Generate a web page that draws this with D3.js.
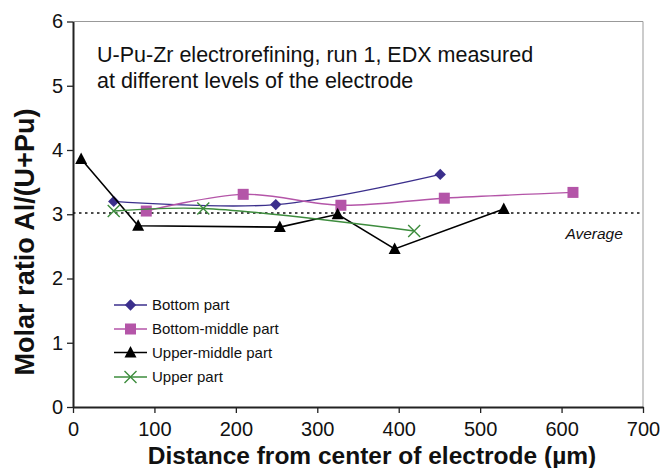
<!DOCTYPE html>
<html><head><meta charset="utf-8">
<script src="https://cdn.jsdelivr.net/npm/d3@7"></script>
<style>body{margin:0;background:#fff}svg{display:block;font-family:"Liberation Sans",Arial,sans-serif}</style>
</head><body><svg id="c" width="661" height="468"></svg>
<script>
const xTicks = [0,100,200,300,400,500,600,700];
const yTicks = [0,1,2,3,4,5,6];
const average = 3.02;
const seriesNames = ["Bottom part","Bottom-middle part","Upper-middle part","Upper part"];
const bottomX = [50, 249, 451];
const bottomY = [3.20, 3.15, 3.62];
const bottomMidX = [90, 209, 329, 456, 614];
const bottomMidY = [3.05, 3.31, 3.14, 3.25, 3.34];
const upperMidX = [10, 80, 254, 325, 395, 529];
const upperMidY = [3.86, 2.82, 2.80, 3.00, 2.46, 3.08];
const upperX = [50, 160, 419];
const upperY = [3.05, 3.09, 2.74];

const svg = d3.select("#c");
const L = 73, R = 643, T = 21.5, B = 407;
const x = d3.scaleLinear().domain([0,700]).range([L,R]);
const y = d3.scaleLinear().domain([0,6]).range([B,T]);

// frame (top/right gray)
svg.append("line").attr("x1",L).attr("x2",R).attr("y1",T).attr("y2",T).attr("stroke","#999").attr("stroke-width",1);
svg.append("line").attr("x1",R).attr("x2",R).attr("y1",T).attr("y2",B).attr("stroke","#999").attr("stroke-width",1);

// axes
const xa = svg.append("g").attr("transform",`translate(0,${B})`)
  .call(d3.axisBottom(x).tickValues(xTicks).tickFormat(d3.format("d")).tickSize(6).tickPadding(9).tickSizeOuter(0));
const ya = svg.append("g").attr("transform",`translate(${L},0)`)
  .call(d3.axisLeft(y).tickValues(yTicks).tickFormat(d3.format("d")).tickSize(6).tickPadding(4).tickSizeOuter(0));
[xa,ya].forEach(g=>{
  g.attr("font-size",20).attr("font-family","Liberation Sans, Arial, sans-serif");
  g.select(".domain").attr("stroke","#222").attr("stroke-width",2);
  g.selectAll(".tick line").attr("stroke","#222").attr("stroke-width",1.3);
  g.selectAll(".tick text").attr("font-size",20).attr("fill","#111");
});

// average line
svg.append("line").attr("x1",L).attr("x2",R).attr("y1",y(average)).attr("y2",y(average))
  .attr("stroke","#111").attr("stroke-width",1.5).attr("stroke-dasharray","2.5,3.5");
svg.append("text").attr("x",x(640)).attr("y",y(average)+26).attr("font-size",15.5).attr("font-style","italic")
  .attr("text-anchor","middle").attr("fill","#111").text("Average");

const series = [
  {name:seriesNames[0], xs:bottomX, ys:bottomY, color:"#3b2f8c", marker:"diamond", smooth:true},
  {name:seriesNames[1], xs:bottomMidX, ys:bottomMidY, color:"#b455a8", marker:"square", smooth:true},
  {name:seriesNames[2], xs:upperMidX, ys:upperMidY, color:"#000000", marker:"triangle", smooth:false},
  {name:seriesNames[3], xs:upperX, ys:upperY, color:"#3d8c3d", marker:"cross", smooth:true}
];

function drawMarker(g, type, cx, cy, color){
  if(type==="diamond"){
    g.append("path").attr("d",d3.symbol(d3.symbolSquare,64)())
     .attr("transform",`translate(${cx},${cy}) rotate(45)`).attr("fill",color);
  } else if(type==="square"){
    g.append("rect").attr("x",cx-5.5).attr("y",cy-5.5).attr("width",11).attr("height",11).attr("fill",color);
  } else if(type==="triangle"){
    g.append("path").attr("d",`M${cx},${cy-6.5}L${cx+6},${cy+5}L${cx-6},${cy+5}Z`).attr("fill",color);
  } else {
    g.append("path").attr("d",`M${cx-6},${cy-6}L${cx+6},${cy+6}M${cx-6},${cy+6}L${cx+6},${cy-6}`)
     .attr("stroke",color).attr("stroke-width",1.4).attr("fill","none");
  }
}

series.forEach(s=>{
  const pts = s.xs.map((v,i)=>[v,s.ys[i]]);
  const line = d3.line().x(d=>x(d[0])).y(d=>y(d[1]))
    .curve(s.smooth ? d3.curveCatmullRom.alpha(0.5) : d3.curveLinear);
  svg.append("path").datum(pts).attr("d",line).attr("fill","none")
    .attr("stroke",s.color).attr("stroke-width",s.smooth?1.4:1.6);
  const g = svg.append("g");
  pts.forEach(p=>drawMarker(g,s.marker,x(p[0]),y(p[1]),s.color));
});

// legend
const legY = [305, 329, 352.5, 377];
series.forEach((s,i)=>{
  const g = svg.append("g");
  g.append("line").attr("x1",114).attr("x2",147).attr("y1",legY[i]).attr("y2",legY[i]).attr("stroke",s.color).attr("stroke-width",1.3);
  drawMarker(g,s.marker,130.5,legY[i],s.color);
  g.append("text").attr("x",152).attr("y",legY[i]+5.4).attr("font-size",15).attr("fill","#111").text(s.name);
});

// annotation
svg.append("text").attr("x",97).attr("y",62).attr("font-size",21.5).attr("fill","#111").text("U-Pu-Zr electrorefining, run 1, EDX measured");
svg.append("text").attr("x",97).attr("y",88).attr("font-size",21.5).attr("fill","#111").text("at different levels of the electrode");

// axis titles
svg.append("text").attr("x",372).attr("y",464).attr("text-anchor","middle").attr("font-size",24.5)
  .attr("font-weight","bold").attr("fill","#111").text("Distance from center of electrode (µm)");
svg.append("text").attr("transform","translate(34,242) rotate(-90)").attr("text-anchor","middle")
  .attr("font-size",27).attr("font-weight","bold").attr("fill","#111").text("Molar ratio Al/(U+Pu)");
</script></body></html>
